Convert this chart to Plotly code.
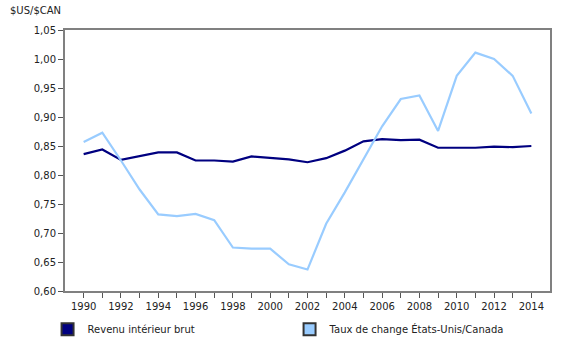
import plotly.graph_objects as go

years = list(range(1990, 2015))
rib = [0.836, 0.844, 0.826, 0.833, 0.839, 0.839, 0.825, 0.825, 0.823, 0.832,
       0.829, 0.827, 0.822, 0.829, 0.842, 0.858, 0.862, 0.860, 0.861, 0.847,
       0.847, 0.847, 0.849, 0.848, 0.850]
taux = [0.857, 0.873, 0.825, 0.775, 0.732, 0.729, 0.733, 0.722, 0.675, 0.673,
        0.673, 0.646, 0.637, 0.716, 0.770, 0.826, 0.884, 0.931, 0.937, 0.876,
        0.971, 1.011, 1.000, 0.971, 0.906]
names = ["Revenu intérieur brut", "Taux de change États-Unis/Canada"]
colors = ["#000080", "#99CCFF"]
y_title = "$US/$CAN"

ticktext = [str(y) if y % 2 == 0 else "" for y in years]

fig = go.Figure()
for name, vals, col in zip(names, [rib, taux], colors):
    fig.add_trace(go.Scatter(x=years, y=vals, mode="lines", name=name,
                             line=dict(color=col, width=2.2), showlegend=False,
                             hoverinfo="skip"))
for name, col in zip(names, colors):
    fig.add_trace(go.Scatter(x=[None], y=[None], mode="markers", name=name,
                             marker=dict(symbol="square", size=11, color=col,
                                         line=dict(color="#333333", width=1))))

font = dict(family="DejaVu Sans, Verdana, sans-serif", size=10, color="#222222")
fig.update_layout(
    width=580, height=345,
    margin=dict(l=65, r=30, t=30, b=54),
    paper_bgcolor="white", plot_bgcolor="white",
    font=font,
    separators=", ",
    xaxis=dict(range=[1989, 2015], tickvals=years, ticktext=ticktext,
               ticks="outside", ticklen=5, tickcolor="#555555", tickwidth=1,
               showline=True, linecolor="#808080", linewidth=2, mirror=True,
               showgrid=False, zeroline=False, tickfont=font, automargin=False),
    yaxis=dict(range=[0.60, 1.05], dtick=0.05, tickformat=".2f",
               ticks="outside", ticklen=5, tickcolor="#555555", tickwidth=1,
               showline=True, linecolor="#808080", linewidth=2, mirror=True,
               showgrid=False, zeroline=False, tickfont=font, automargin=False),
    legend=dict(orientation="h", xref="container", x=0.082, xanchor="left",
                yref="container", y=0.046, yanchor="middle",
                entrywidth=197, font=font, itemsizing="constant"),
    annotations=[dict(text=y_title, xref="paper", yref="paper", x=-0.1175, y=1.073,
                      xanchor="left", yanchor="middle", showarrow=False, font=font)],
)
fig.write_html("out.html")
